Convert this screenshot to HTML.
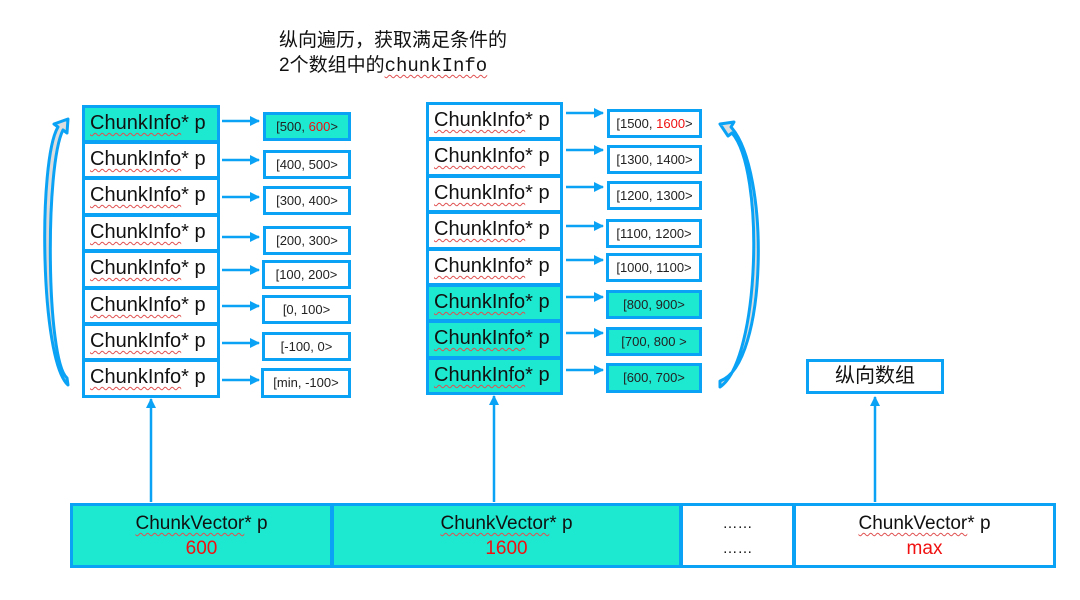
<!DOCTYPE html>
<html><head><meta charset="utf-8">
<style>
body{margin:0;background:#fff;width:1080px;height:600px;position:relative;overflow:hidden;font-family:"Liberation Sans","Noto Sans CJK SC",sans-serif;}
.b{position:absolute;box-sizing:border-box;border:3px solid #0aa2f5;background:#fff;}
.row{font-size:20px;color:#111;line-height:31px;padding-left:5px;white-space:nowrap;}
.sm{font-size:13px;color:#222;text-align:center;line-height:23px;white-space:nowrap;}
.t{background:#1de8d0;}
.u{text-decoration:underline wavy #e05050;text-decoration-thickness:1px;text-underline-offset:3px;}
.r{color:#f01010;}
.cell{font-size:19px;text-align:center;line-height:25px;padding-top:5px;color:#111;}
</style></head><body>
<div style="position:absolute;left:279px;top:28px;font-size:19px;line-height:25px;color:#111;">纵向遍历，获取满足条件的<br>2个数组中的<span class="u" style="font-family:'Liberation Mono',monospace;">chunkInfo</span></div>

<div class="b row t" style="left:82px;top:105px;width:138px;height:38px;"><span class="u">ChunkInfo</span>* p</div>
<div class="b row" style="left:82px;top:141px;width:138px;height:38px;"><span class="u">ChunkInfo</span>* p</div>
<div class="b row" style="left:82px;top:177px;width:138px;height:39px;"><span class="u">ChunkInfo</span>* p</div>
<div class="b row" style="left:82px;top:214px;width:138px;height:38px;"><span class="u">ChunkInfo</span>* p</div>
<div class="b row" style="left:82px;top:250px;width:138px;height:39px;"><span class="u">ChunkInfo</span>* p</div>
<div class="b row" style="left:82px;top:287px;width:138px;height:38px;"><span class="u">ChunkInfo</span>* p</div>
<div class="b row" style="left:82px;top:323px;width:138px;height:38px;"><span class="u">ChunkInfo</span>* p</div>
<div class="b row" style="left:82px;top:359px;width:138px;height:39px;"><span class="u">ChunkInfo</span>* p</div>

<div class="b sm t" style="left:263px;top:112px;width:88px;height:29px;">[500, <span class="r">600</span>&gt;</div>
<div class="b sm" style="left:263px;top:150px;width:88px;height:29px;">[400, 500&gt;</div>
<div class="b sm" style="left:263px;top:186px;width:88px;height:29px;">[300, 400&gt;</div>
<div class="b sm" style="left:263px;top:226px;width:88px;height:29px;">[200, 300&gt;</div>
<div class="b sm" style="left:262px;top:260px;width:89px;height:29px;">[100, 200&gt;</div>
<div class="b sm" style="left:262px;top:295px;width:89px;height:29px;">[0, 100&gt;</div>
<div class="b sm" style="left:262px;top:332px;width:89px;height:29px;">[-100, 0&gt;</div>
<div class="b sm" style="left:261px;top:368px;width:90px;height:30px;">[min, -100&gt;</div>

<div class="b row" style="left:426px;top:102px;width:137px;height:38px;"><span class="u">ChunkInfo</span>* p</div>
<div class="b row" style="left:426px;top:138px;width:137px;height:39px;"><span class="u">ChunkInfo</span>* p</div>
<div class="b row" style="left:426px;top:175px;width:137px;height:38px;"><span class="u">ChunkInfo</span>* p</div>
<div class="b row" style="left:426px;top:211px;width:137px;height:39px;"><span class="u">ChunkInfo</span>* p</div>
<div class="b row" style="left:426px;top:248px;width:137px;height:38px;"><span class="u">ChunkInfo</span>* p</div>
<div class="b row t" style="left:426px;top:284px;width:137px;height:38px;"><span class="u">ChunkInfo</span>* p</div>
<div class="b row t" style="left:426px;top:320px;width:137px;height:39px;"><span class="u">ChunkInfo</span>* p</div>
<div class="b row t" style="left:426px;top:357px;width:137px;height:38px;"><span class="u">ChunkInfo</span>* p</div>

<div class="b sm" style="left:607px;top:109px;width:95px;height:29px;">[1500, <span class="r">1600</span>&gt;</div>
<div class="b sm" style="left:607px;top:145px;width:95px;height:29px;">[1300, 1400&gt;</div>
<div class="b sm" style="left:607px;top:181px;width:95px;height:29px;">[1200, 1300&gt;</div>
<div class="b sm" style="left:606px;top:219px;width:96px;height:29px;">[1100, 1200&gt;</div>
<div class="b sm" style="left:606px;top:253px;width:96px;height:29px;">[1000, 1100&gt;</div>
<div class="b sm t" style="left:606px;top:290px;width:96px;height:29px;">[800, 900&gt;</div>
<div class="b sm t" style="left:606px;top:327px;width:96px;height:29px;">[700, 800 &gt;</div>
<div class="b sm t" style="left:606px;top:363px;width:96px;height:30px;">[600, 700&gt;</div>

<div class="b" style="left:806px;top:359px;width:138px;height:35px;font-size:20px;text-align:center;line-height:29px;color:#111;">纵向数组</div>

<div class="b cell t" style="left:70px;top:503px;width:263px;height:65px;"><span class="u">ChunkVector</span>* p<br><span class="r">600</span></div>
<div class="b cell t" style="left:331px;top:503px;width:351px;height:65px;"><span class="u">ChunkVector</span>* p<br><span class="r">1600</span></div>
<div class="b cell" style="left:680px;top:503px;width:115px;height:65px;font-size:15px;">……<br>……</div>
<div class="b cell" style="left:793px;top:503px;width:263px;height:65px;"><span class="u">ChunkVector</span>* p<br><span class="r">max</span></div>

<svg width="1080" height="600" style="position:absolute;left:0;top:0;" xmlns="http://www.w3.org/2000/svg">
<defs><marker id="a" markerWidth="10" markerHeight="10" refX="9" refY="5" orient="auto" markerUnits="userSpaceOnUse"><path d="M0,0 L10,5 L0,10 z" fill="#0aa2f5"/></marker></defs>
<g stroke="#0aa2f5" stroke-width="2.5" marker-end="url(#a)">
<line x1="222" y1="121" x2="259" y2="121"/><line x1="222" y1="160" x2="259" y2="160"/><line x1="222" y1="197" x2="259" y2="197"/><line x1="222" y1="237" x2="259" y2="237"/><line x1="222" y1="270" x2="259" y2="270"/><line x1="222" y1="306" x2="259" y2="306"/><line x1="222" y1="343" x2="259" y2="343"/><line x1="222" y1="380" x2="259" y2="380"/>
<line x1="566" y1="113" x2="603" y2="113"/><line x1="566" y1="150" x2="603" y2="150"/><line x1="566" y1="187" x2="603" y2="187"/><line x1="566" y1="226" x2="603" y2="226"/><line x1="566" y1="260" x2="603" y2="260"/><line x1="566" y1="297" x2="603" y2="297"/><line x1="566" y1="333" x2="603" y2="333"/><line x1="566" y1="370" x2="603" y2="370"/>
<line x1="151" y1="502" x2="151" y2="399"/><line x1="494" y1="502" x2="494" y2="396"/><line x1="875" y1="502" x2="875" y2="397"/>
</g>
<g fill="#fff" stroke="#0aa2f5" stroke-width="3" stroke-linejoin="round">
<path d="M68,385 C40,360 38,160 58,127 L54,124 L68,119 L67,133 L63,130 C45,165 46,360 67,378 Z" fill="#ddd"/>
<path d="M720,387 C760,360 765,170 732,133 L728,136 L720,124 L734,122 L731,127 C770,170 768,365 720,381 Z" fill="#ddd"/>
</g>
</svg>
</body></html>
